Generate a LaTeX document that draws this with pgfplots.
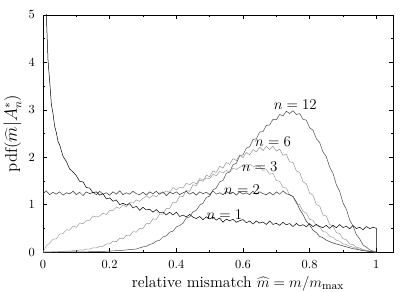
\documentclass[border=0pt]{standalone}
\usepackage{pgfplots}
\pgfplotsset{compat=1.18}
\begin{document}
\begin{tikzpicture}
\begin{axis}[
  scale only axis, width=281.6pt, height=190.8pt,
  xmin=0, xmax=1.05, ymin=0, ymax=5,
  xtick={0,0.2,0.4,0.6,0.8,1}, ytick={0,1,2,3,4,5},
  minor x tick num=1, minor y tick num=1,
  tick align=inside, major tick length=3.5pt, minor tick length=2pt,
  tick style={black, line width=0.4pt},
  axis line style={line width=0.5pt},
  xticklabel style={yshift=-3pt},
  yticklabel style={xshift=-3pt},
  xlabel={relative mismatch $\widehat{m} = m/m_{\max}$},
  xlabel style={font=\fontsize{12.7}{15}\selectfont, at={(axis description cs:0.557,0)}, anchor=center, yshift=-25.5pt},
  ylabel={pdf($\widehat{m}|A^{*}_{n}$)},
  ylabel style={font=\fontsize{13.5}{16}\selectfont, yshift=-1pt},
  every axis plot/.append style={line width=0.4pt},
]
\addplot[black!70] table {
0.00 0
0.04 0.001
0.08 0.002
0.12 0.004
0.16 0.010
0.20 0.020
0.22 0.029
0.24 0.037
0.26 0.052
0.28 0.064
0.29 0.087
0.30 0.11
0.31 0.12
0.32 0.16
0.33 0.18
0.34 0.23
0.35 0.25
0.36 0.32
0.37 0.34
0.38 0.42
0.39 0.44
0.40 0.53
0.41 0.56
0.42 0.61
0.43 0.72
0.44 0.74
0.45 0.85
0.46 0.88
0.47 0.99
0.48 1.03
0.49 1.15
0.50 1.18
0.51 1.31
0.52 1.35
0.53 1.48
0.54 1.51
0.55 1.66
0.56 1.69
0.57 1.84
0.58 1.87
0.59 2.03
0.60 2.05
0.61 2.19
0.62 2.22
0.63 2.37
0.64 2.39
0.65 2.53
0.66 2.54
0.67 2.67
0.68 2.68
0.69 2.80
0.70 2.79
0.71 2.90
0.72 2.87
0.73 2.97
0.74 2.92
0.75 2.98
0.76 2.90
0.77 2.92
0.78 2.80
0.79 2.78
0.80 2.62
0.81 2.57
0.82 2.39
0.83 2.31
0.84 2.11
0.85 2.01
0.86 1.79
0.87 1.66
0.88 1.42
0.89 1.28
0.90 1.04
0.91 0.90
0.92 0.68
0.93 0.55
0.94 0.37
0.95 0.28
0.96 0.15
0.97 0.105
0.98 0.045
0.99 0.022
1.00 0
};
\addplot[black!42] table {
0.00 0
0.01 0.003
0.02 0.003
0.03 0.008
0.04 0.006
0.05 0.013
0.06 0.011
0.07 0.02
0.08 0.018
0.09 0.03
0.10 0.026
0.11 0.045
0.12 0.041
0.13 0.064
0.14 0.06
0.15 0.09
0.16 0.087
0.17 0.12
0.18 0.12
0.19 0.17
0.20 0.17
0.21 0.23
0.22 0.22
0.23 0.29
0.24 0.28
0.25 0.35
0.26 0.34
0.27 0.43
0.28 0.42
0.29 0.50
0.30 0.50
0.31 0.60
0.32 0.60
0.33 0.70
0.34 0.69
0.35 0.80
0.36 0.80
0.37 0.92
0.38 0.92
0.39 1.05
0.40 1.05
0.41 1.18
0.42 1.17
0.43 1.30
0.44 1.28
0.45 1.42
0.46 1.40
0.47 1.52
0.48 1.49
0.49 1.62
0.50 1.59
0.51 1.71
0.52 1.68
0.53 1.81
0.54 1.77
0.55 1.89
0.56 1.85
0.57 1.97
0.58 1.93
0.59 2.05
0.60 1.99
0.61 2.10
0.62 2.05
0.63 2.16
0.64 2.11
0.65 2.21
0.66 2.14
0.67 2.23
0.68 2.16
0.69 2.23
0.70 2.13
0.71 2.17
0.72 2.04
0.73 2.06
0.74 1.90
0.75 1.89
0.76 1.71
0.77 1.68
0.78 1.48
0.79 1.44
0.80 1.24
0.81 1.20
0.82 1.00
0.83 0.97
0.84 0.78
0.85 0.76
0.86 0.58
0.87 0.55
0.88 0.41
0.89 0.39
0.90 0.28
0.91 0.26
0.92 0.17
0.93 0.16
0.94 0.10
0.95 0.085
0.96 0.05
0.97 0.038
0.98 0.018
0.99 0.009
1.00 0
};
\addplot[black!38] table {
0.00 0
0.01 0.13
0.02 0.19
0.03 0.27
0.04 0.28
0.05 0.38
0.06 0.39
0.07 0.47
0.08 0.46
0.09 0.55
0.10 0.52
0.11 0.61
0.12 0.60
0.13 0.66
0.14 0.67
0.15 0.76
0.16 0.74
0.17 0.76
0.18 0.82
0.19 0.79
0.20 0.88
0.21 0.87
0.22 0.95
0.23 0.92
0.24 1.00
0.25 0.95
0.26 1.05
0.27 1.03
0.28 1.10
0.29 1.07
0.30 1.13
0.31 1.18
0.32 1.14
0.33 1.20
0.34 1.16
0.35 1.25
0.36 1.24
0.37 1.29
0.38 1.26
0.39 1.36
0.40 1.31
0.41 1.37
0.42 1.35
0.43 1.45
0.44 1.42
0.45 1.47
0.46 1.44
0.47 1.55
0.48 1.52
0.49 1.56
0.50 1.55
0.51 1.64
0.52 1.61
0.53 1.70
0.54 1.67
0.55 1.72
0.56 1.68
0.57 1.77
0.58 1.74
0.59 1.79
0.60 1.83
0.61 1.79
0.62 1.85
0.63 1.81
0.64 1.79
0.65 1.81
0.66 1.72
0.67 1.74
0.68 1.64
0.69 1.66
0.70 1.51
0.71 1.49
0.72 1.36
0.73 1.35
0.74 1.20
0.75 1.17
0.76 1.02
0.77 1.00
0.78 0.86
0.79 0.82
0.80 0.69
0.81 0.67
0.82 0.56
0.83 0.53
0.84 0.43
0.85 0.42
0.86 0.33
0.87 0.31
0.88 0.25
0.89 0.23
0.90 0.17
0.91 0.16
0.92 0.12
0.93 0.105
0.94 0.075
0.95 0.062
0.96 0.042
0.97 0.031
0.98 0.014
0.99 0.006
1.00 0
};
\addplot[black!80] table {
0.00 1.23
0.01 1.29
0.02 1.21
0.03 1.26
0.04 1.22
0.05 1.27
0.06 1.20
0.07 1.25
0.08 1.23
0.09 1.28
0.10 1.21
0.11 1.26
0.12 1.19
0.13 1.27
0.14 1.23
0.15 1.26
0.16 1.21
0.17 1.28
0.18 1.22
0.19 1.25
0.20 1.20
0.21 1.27
0.22 1.22
0.23 1.29
0.24 1.21
0.25 1.25
0.26 1.22
0.27 1.28
0.28 1.23
0.29 1.21
0.30 1.26
0.31 1.20
0.32 1.27
0.33 1.23
0.34 1.28
0.35 1.22
0.36 1.27
0.37 1.19
0.38 1.26
0.39 1.23
0.40 1.27
0.41 1.21
0.42 1.25
0.43 1.28
0.44 1.22
0.45 1.26
0.46 1.20
0.47 1.27
0.48 1.23
0.49 1.26
0.50 1.21
0.51 1.29
0.52 1.22
0.53 1.25
0.54 1.21
0.55 1.28
0.56 1.23
0.57 1.26
0.58 1.20
0.59 1.27
0.60 1.22
0.61 1.25
0.62 1.21
0.63 1.28
0.64 1.22
0.65 1.27
0.66 1.23
0.67 1.21
0.68 1.26
0.69 1.20
0.70 1.27
0.71 1.22
0.72 1.29
0.73 1.23
0.74 1.21
0.75 1.17
0.76 1.06
0.77 0.90
0.78 0.79
0.79 0.65
0.80 0.57
0.81 0.46
0.82 0.41
0.83 0.33
0.84 0.30
0.85 0.25
0.86 0.22
0.87 0.19
0.88 0.17
0.89 0.15
0.90 0.13
0.91 0.11
0.92 0.09
0.93 0.07
0.94 0.06
0.95 0.045
0.96 0.03
0.97 0.02
0.98 0.01
0.99 0.005
1.00 0
};
\addplot[black] table {
0.001 15.8
0.002 11.2
0.004 7.9
0.006 6.45
0.008 5.6
0.010 5.0
0.015 4.05
0.020 3.60
0.025 3.12
0.030 2.92
0.035 2.65
0.040 2.52
0.045 2.33
0.050 2.26
0.060 2.02
0.070 1.91
0.080 1.75
0.090 1.69
0.10 1.61
0.11 1.49
0.12 1.48
0.13 1.36
0.14 1.35
0.15 1.25
0.16 1.27
0.17 1.20
0.18 1.23
0.19 1.12
0.20 1.14
0.21 1.07
0.22 1.10
0.23 1.00
0.24 1.03
0.25 0.99
0.26 1.02
0.27 0.93
0.28 0.965
0.29 0.88
0.30 0.943
0.31 0.888
0.32 0.904
0.33 0.84
0.34 0.897
0.35 0.825
0.36 0.843
0.37 0.782
0.38 0.841
0.39 0.78
0.40 0.84
0.41 0.75
0.42 0.78
0.43 0.742
0.44 0.794
0.45 0.735
0.46 0.707
0.47 0.749
0.48 0.682
0.49 0.744
0.50 0.697
0.51 0.74
0.52 0.673
0.53 0.717
0.54 0.63
0.55 0.694
0.56 0.658
0.57 0.692
0.58 0.627
0.59 0.661
0.60 0.685
0.61 0.62
0.62 0.655
0.63 0.59
0.64 0.655
0.65 0.61
0.66 0.635
0.67 0.581
0.68 0.656
0.69 0.582
0.70 0.608
0.71 0.563
0.72 0.629
0.73 0.575
0.74 0.601
0.75 0.537
0.76 0.604
0.77 0.55
0.78 0.576
0.79 0.533
0.80 0.599
0.81 0.536
0.82 0.582
0.83 0.539
0.84 0.516
0.85 0.562
0.86 0.499
0.87 0.566
0.88 0.513
0.89 0.58
0.90 0.517
0.91 0.544
0.92 0.491
0.93 0.558
0.94 0.496
0.95 0.523
0.96 0.47
0.97 0.538
0.98 0.495
0.99 0.523
1.00 0.5
1.00 0
};
\node[font=\large] at (axis cs:0.757,3.10) {$n=12$};
\node[font=\large] at (axis cs:0.69,2.32) {$n=6$};
\node[font=\large] at (axis cs:0.65,1.80) {$n=3$};
\node[font=\large] at (axis cs:0.597,1.31) {$n=2$};
\node[font=\large] at (axis cs:0.544,0.78) {$n=1$};
\coordinate (sw) at (rel axis cs:0,0);
\coordinate (ne) at (rel axis cs:1,1);
\end{axis}
\pgfresetboundingbox
\path ([xshift=-34.6pt,yshift=-31.4pt]sw) rectangle ([xshift=17.7pt,yshift=12pt]ne);
\end{tikzpicture}
\end{document}
